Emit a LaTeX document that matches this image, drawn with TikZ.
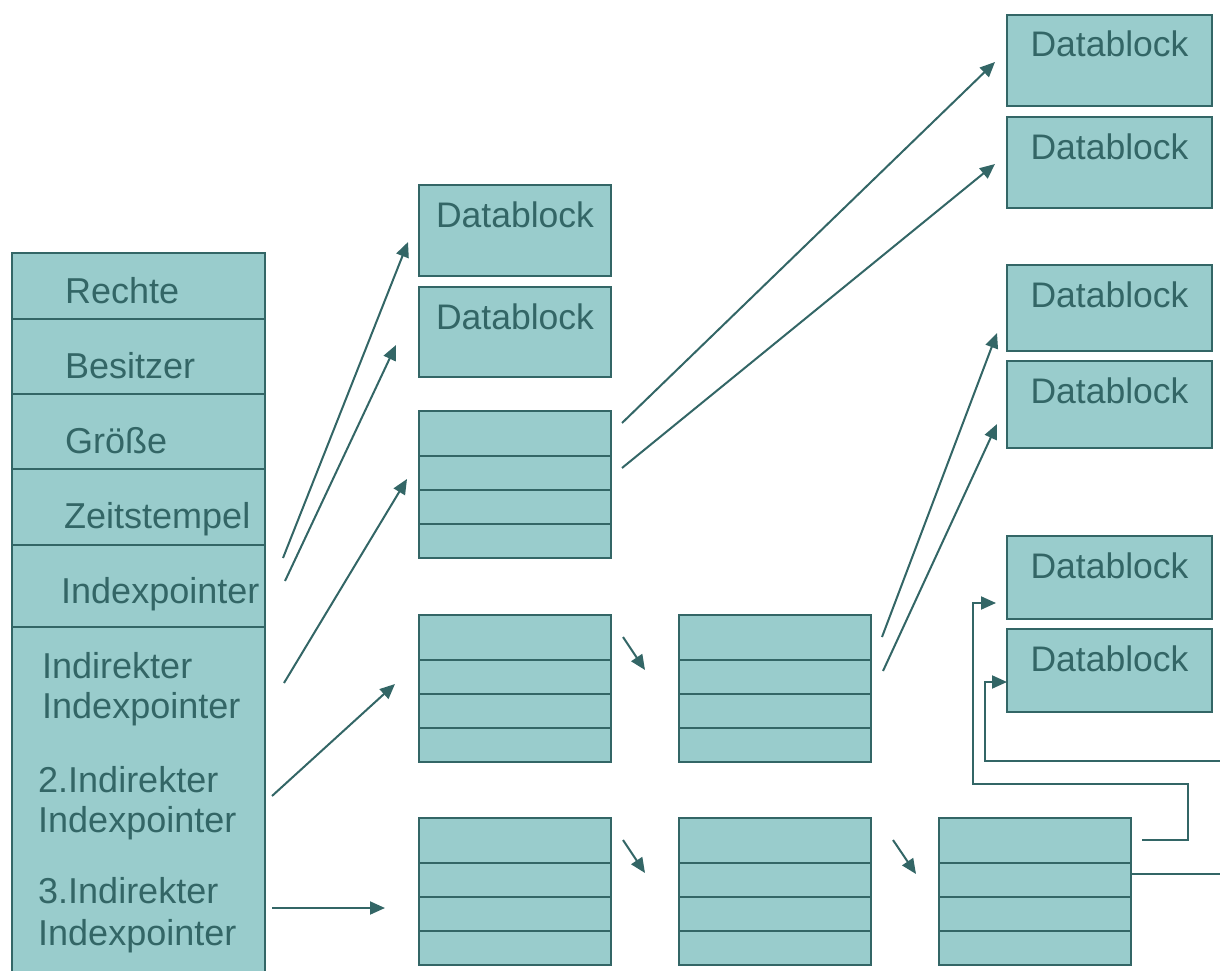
\documentclass[tikz,border=0pt]{standalone}
\usepackage{fontspec}
\setmainfont{Liberation Sans}
\usetikzlibrary{arrows.meta,calc}
\definecolor{fillc}{HTML}{99CCCC}
\definecolor{linec}{HTML}{336666}
\begin{document}
\begin{tikzpicture}[x=1pt,y=-1pt,
  blk/.style={draw=linec,fill=fillc,line width=2pt,inner sep=0pt,outer sep=0pt,anchor=north west},
  lbl/.style={text=linec,font=\fontsize{36}{40}\selectfont,anchor=base west,inner sep=0pt},
  dbtext/.style={text=linec,font=\fontsize{35.5}{40}\selectfont,anchor=base,inner sep=0pt},
  arr/.style={draw=linec,line width=2pt,-{Triangle[length=15pt,width=13pt]}},
  ln/.style={draw=linec,line width=2pt}]
\useasboundingbox (0,0) rectangle (1220,971);
\clip (0,0) rectangle (1220,971);

% ---- left inode column
\node[blk,minimum width=253pt,minimum height=66pt] (rowR) at (12,253) {};
\node[blk,minimum width=253pt,minimum height=75pt] (rowB) at (12,319) {};
\node[blk,minimum width=253pt,minimum height=75pt] (rowG) at (12,394) {};
\node[blk,minimum width=253pt,minimum height=76pt] (rowZ) at (12,469) {};
\node[blk,minimum width=253pt,minimum height=82pt] (rowI) at (12,545) {};
\node[blk,minimum width=253pt,minimum height=380pt] (rowX) at (12,627) {};

\node[lbl] (tR) at (65,303) {Rechte};
\node[lbl] (tB) at (65,378) {Besitzer};
\node[lbl] (tG) at (65,453) {Größe};
\node[lbl] (tZ) at (64,528) {Zeitstempel};
\node[lbl] (tI) at (61,603) {Indexpointer};
\node[lbl] (tX1a) at (42,678) {Indirekter};
\node[lbl] (tX1b) at (42,718) {Indexpointer};
\node[lbl] (tX2a) at (38,792) {2.Indirekter};
\node[lbl] (tX2b) at (38,832) {Indexpointer};
\node[lbl] (tX3a) at (38,903) {3.Indirekter};
\node[lbl] (tX3b) at (38,945) {Indexpointer};

% ---- data blocks
\foreach \nm/\x/\y/\w/\h in {dA/419/185/192/91, dB/419/287/192/90,
   r1/1007/15/205/91, r2/1007/117/205/91, r3/1007/265/205/86,
   r4/1007/361/205/87, r5/1007/536/205/83, r6/1007/629/205/83}{
  \node[blk,minimum width=\w pt,minimum height=\h pt] (\nm) at (\x,\y) {};
  \node[dbtext] (\nm t) at ($(\nm.north)+(0,42)$) {Datablock};
}

% ---- index blocks
\foreach \nm/\x/\y in {i1/419/411, i2/419/615, i3/419/818,
   m2/679/615, m3/679/818, q3/939/818}{
  \node[blk,minimum width=192pt,minimum height=147pt] (\nm) at (\x,\y) {};
  \foreach \d in {45,79,113}{
    \draw[ln] ($(\nm.north west)+(0,\d)$) -- ($(\nm.north east)+(0,\d)$);
  }
}

% ---- connector end points
\coordinate (s1) at (283,558); \coordinate (e1) at (408,242);
\coordinate (s2) at (285,581); \coordinate (e2) at (396,345);
\coordinate (s3) at (284,683); \coordinate (e3) at (407,479);
\coordinate (s4) at (272,796); \coordinate (e4) at (395,684);
\coordinate (s5) at (272,908); \coordinate (e5) at (385,908);
\coordinate (s6) at (622,423); \coordinate (e6) at (995,62);
\coordinate (s7) at (622,468); \coordinate (e7) at (995,164);
\coordinate (s8) at (623,637); \coordinate (e8) at (645,670);
\coordinate (s9) at (623,840); \coordinate (e9) at (645,873);
\coordinate (s10) at (893,840); \coordinate (e10) at (916,874);
\coordinate (s11) at (882,637); \coordinate (e11) at (997,333);
\coordinate (s12) at (883,671); \coordinate (e12) at (997,424);
\coordinate (s13) at (1142,840); \coordinate (e13) at (996,603);
\coordinate (s14) at (1222,761); \coordinate (e14) at (1007,682);
\coordinate (s15) at (1131,874); \coordinate (e15) at (1222,874);

\foreach \i in {1,...,12}{ \draw[arr] (s\i) -- (e\i); }
\draw[arr] (s13) -- (1188,840) -- (1188,784) -- (973,784) -- (973,603) -- (e13);
\draw[arr] (s14) -- (985,761) -- (985,682) -- (e14);
\draw[ln] (s15) -- (e15);
\end{tikzpicture}
\end{document}
